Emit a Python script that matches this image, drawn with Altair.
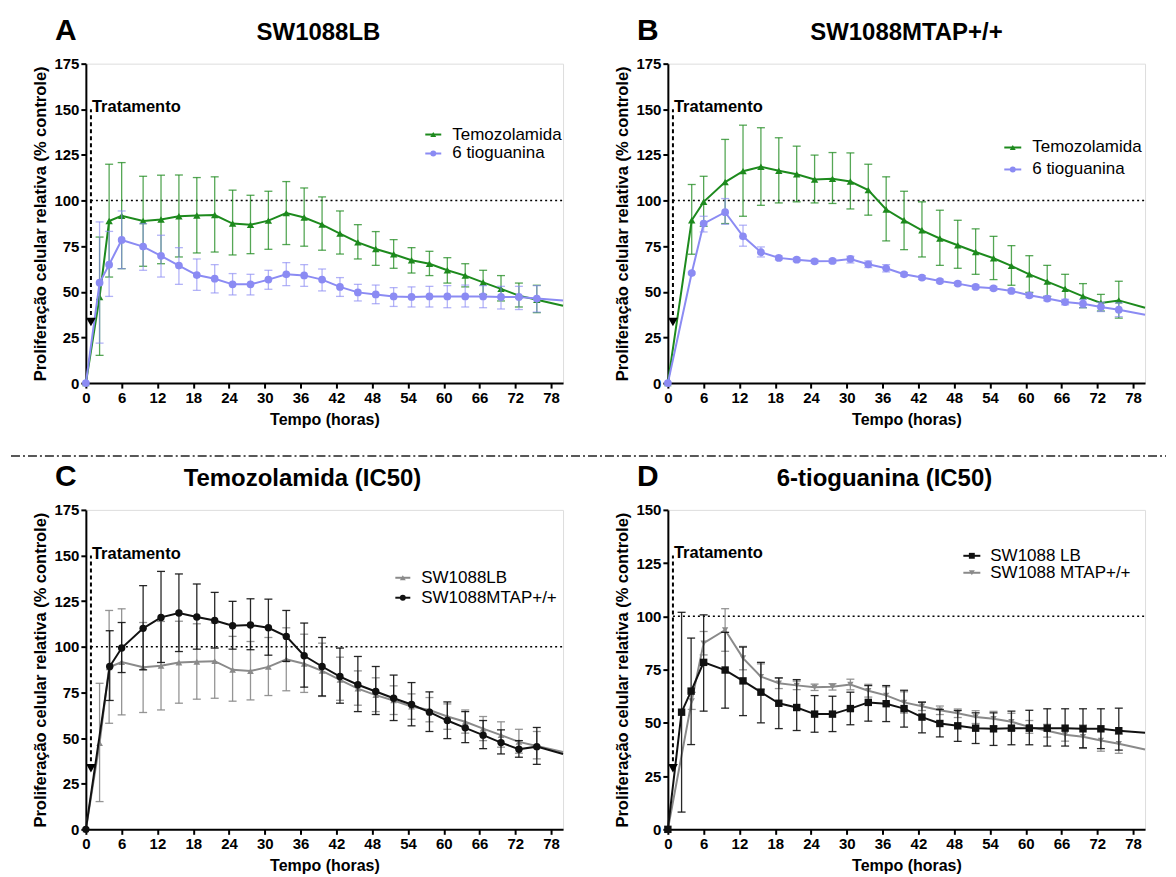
import altair as alt
import pandas as pd

FONT = "Liberation Sans"

# ---------------- data ----------------
T_END = 80
# time points (hours)
T_LB = [0, 2.3, 3.9, 6.0, 9.6, 12.6, 15.6, 18.6, 21.6, 24.6, 27.6, 30.6, 33.6, 36.6,
        39.6, 42.6, 45.6, 48.6, 51.6, 54.6, 57.6, 60.6, 63.6, 66.6, 69.6, 72.6, 75.6]
T_MTAP = [0, 4.0, 6.0, 9.6, 12.6, 15.6, 18.6, 21.6, 24.6, 27.6, 30.6, 33.6, 36.6,
          39.6, 42.6, 45.6, 48.6, 51.6, 54.6, 57.6, 60.6, 63.6, 66.6, 69.6, 72.6, 75.6]

# SW1088LB - Temozolamida
LB_TMZ = [0, 47.2, 88.8, 91.6, 88.8, 89.6, 91.4, 91.8, 92.1, 87.4, 86.7, 89.0, 93.1, 90.7,
          86.8, 81.9, 77.1, 73.5, 70.6, 67.3, 65.4, 61.8, 58.9, 55.2, 51.6, 47.9, 45.7]
LB_TMZ_HI = [0, 80.0, 119.9, 120.8, 113.3, 113.9, 114.0, 112.6, 113.0, 105.7, 102.9, 105.1, 110.4, 106.9,
             102.0, 94.3, 86.8, 83.0, 78.6, 74.2, 72.2, 68.7, 65.4, 61.8, 58.9, 54.8, 53.6]
LB_TMZ_LO = [0, 15.2, 58.1, 62.7, 64.0, 65.4, 69.1, 71.3, 71.8, 70.2, 70.9, 73.3, 75.9, 75.0,
             72.8, 70.7, 68.0, 64.5, 62.9, 60.3, 58.9, 54.8, 52.7, 48.6, 45.0, 41.7, 38.6]
LB_TMZ_END = 42.4

# SW1088LB - 6 tioguanina
LB_6TG = [0, 55.0, 64.9, 78.4, 74.8, 69.7, 64.4, 59.2, 57.2, 54.1, 54.1, 56.7, 59.6, 59.0,
          56.7, 52.7, 49.7, 48.6, 47.5, 47.2, 47.5, 47.5, 47.5, 47.5, 47.2, 47.2, 46.3]
LB_6TG_HI = [0, 88.3, 83.1, 94.3, 87.4, 81.0, 74.2, 68.0, 64.9, 60.0, 59.6, 61.8, 66.0, 64.9,
             62.5, 57.8, 54.1, 53.7, 52.3, 52.7, 53.0, 53.4, 53.7, 53.4, 53.0, 53.0, 53.4]
LB_6TG_LO = [0, 21.9, 47.5, 62.7, 61.8, 58.1, 54.1, 50.8, 49.4, 48.3, 48.3, 51.4, 53.4, 53.0,
             50.5, 47.5, 45.0, 43.5, 42.0, 41.7, 41.7, 41.3, 41.7, 41.3, 40.6, 40.3, 38.9]
LB_6TG_END = 45.3
# panel D error bars (SW1088 LB, 6-tioguanina)
D_LB_HI = [0, 101.9, 89.8, 100.7, 92.5, 85.6, 78.4, 71.1, 70.3, 62.8, 62.5, 64.4, 67.5, 67.5,
           65.3, 59.7, 56.3, 55.8, 54.7, 54.7, 55.5, 55.9, 56.6, 56.6, 56.6, 56.6, 56.9]
D_LB_LO = [0, 8.1, 39.8, 55.5, 56.9, 53.4, 50.0, 47.3, 46.4, 45.6, 45.9, 49.1, 50.8, 50.6,
           48.0, 45.3, 43.4, 41.3, 40.3, 39.4, 39.7, 39.7, 39.1, 39.1, 38.3, 37.9, 37.2]

# SW1088MTAP+/+ - Temozolamida
MT_TMZ = [0, 89.2, 99.3, 110.1, 116.1, 118.5, 116.3, 114.4, 111.5, 111.9, 110.4, 105.7, 95.1,
          89.2, 83.7, 79.2, 75.5, 71.8, 68.4, 64.2, 59.6, 55.6, 51.6, 47.5, 43.9, 45.3]
MT_TMZ_HI = [0, 108.8, 113.3, 133.5, 141.3, 139.9, 134.4, 129.8, 124.9, 126.3, 126.1, 119.9, 113.0,
             105.1, 99.3, 94.7, 89.2, 84.5, 80.4, 75.3, 69.8, 64.5, 59.6, 54.5, 48.6, 55.8]
MT_TMZ_LO = [0, 70.6, 85.9, 87.4, 91.4, 97.4, 98.7, 99.3, 98.7, 98.4, 95.4, 92.0, 77.9,
             73.1, 69.1, 64.5, 62.9, 59.6, 56.7, 53.6, 49.7, 47.5, 44.2, 41.3, 39.5, 35.6]
MT_TMZ_END = 41.3

# SW1088MTAP+/+ - 6 tioguanina
MT_6TG = [0, 60.3, 87.4, 93.6, 80.4, 71.7, 68.6, 67.6, 66.7, 66.9, 68.0, 65.1, 62.9,
          59.6, 57.8, 55.9, 54.5, 52.7, 51.9, 50.5, 48.1, 46.3, 44.4, 43.5, 41.7, 40.2]
MT_6TG_HI = [0, 60.8, 91.4, 101.1, 86.5, 74.6, 69.6, 68.6, 67.7, 67.9, 69.5, 66.9, 64.9,
             60.6, 58.8, 56.9, 55.5, 53.7, 52.9, 51.5, 49.3, 47.5, 45.9, 45.8, 44.2, 44.0]
MT_6TG_LO = [0, 59.8, 82.8, 87.0, 75.0, 69.1, 67.6, 66.6, 65.7, 65.9, 65.8, 63.3, 60.9,
             58.6, 56.8, 54.9, 53.5, 51.7, 50.9, 49.5, 46.9, 45.1, 42.9, 41.3, 39.2, 36.4]
MT_6TG_END = 37.5
# panel D error bars (SW1088 MTAP+/+, 6-tioguanina)
D_MT_HI = [0, 64.3, 92.9, 103.6, 85.9, 77.7, 71.1, 69.6, 68.2, 68.4, 70.5, 68.1, 66.9,
           64.6, 59.8, 57.9, 56.5, 55.7, 55.4, 54.5, 51.1, 49.3, 47.4, 49.0, 46.7, 44.7]
D_MT_LO = [0, 56.3, 81.9, 83.6, 74.9, 65.7, 66.1, 65.6, 65.2, 65.4, 65.5, 62.1, 58.9,
           54.6, 55.8, 53.9, 52.5, 49.7, 48.4, 46.5, 45.1, 43.3, 41.4, 38.0, 36.7, 35.7]

# ---------------- styling ----------------
GREEN = "#1d8a1d"
PURPLE = "#8b8bf3"
GREY = "#8a8a8a"
BLACK = "#111111"

W, H = 478, 320
X_TICKS = list(range(0, 79, 6))
Y_TITLE = "Proliferação celular relativa (% controle)"


def axes(ymax):
    xs = alt.Scale(domain=[0, T_END], nice=False, zero=False)
    ys = alt.Scale(domain=[0, ymax], nice=False)
    common = dict(labelFont=FONT, titleFont=FONT, labelFontWeight="bold", titleFontWeight="bold",
                  labelColor="black", titleColor="black", domainColor="black", domainWidth=2,
                  tickColor="black", tickWidth=2, tickSize=5, grid=False, labelPadding=2)
    xa = alt.Axis(values=X_TICKS, title="Tempo (horas)", labelFontSize=15, titleFontSize=16,
                  titlePadding=6, labelFlush=False, **common)
    ya = alt.Axis(values=list(range(0, ymax + 1, 25)), title=Y_TITLE, labelFontSize=15,
                  titleFontSize=16.5, titlePadding=5, **common)
    return xs, ys, xa, ya


def series_layers(s, xs, ys, xa, ya):
    df = pd.DataFrame({"t": s["t"], "v": s["v"], "lo": s["lo"], "hi": s["hi"]})
    dfe = df[df["t"] > 0]
    dfl = pd.DataFrame({"t": s["t"] + [T_END], "v": s["v"] + [s["end"]]})
    X = alt.X("t:Q", scale=xs, axis=xa)
    err = alt.Chart(dfe).mark_rule(color=s["ecolor"], strokeWidth=1.3, opacity=s["eop"]).encode(
        x=X, y=alt.Y("lo:Q", scale=ys, axis=ya), y2="hi:Q")
    caps = alt.Chart(dfe).transform_fold(["lo", "hi"], as_=["k", "val"]).mark_tick(
        orient="horizontal", size=8, thickness=1.3, color=s["ecolor"], opacity=s["eop"]).encode(
        x=X, y=alt.Y("val:Q", scale=ys, axis=ya))
    line = alt.Chart(dfl).mark_line(color=s["color"], strokeWidth=2).encode(
        x=X, y=alt.Y("v:Q", scale=ys, axis=ya))
    pts = alt.Chart(df).mark_point(shape=s["shape"], filled=True, size=s["size"], color=s["color"],
                                   opacity=1).encode(x=X, y=alt.Y("v:Q", scale=ys, axis=ya))
    return [err, caps, line, pts]


def panel(series, ymax, title, letter, legend, ann_top, ann_arrow, title_dx=0,
          extra=None):
    xs, ys, xa, ya = axes(ymax)
    layers = []
    # reference line at 100 %
    ref = alt.Chart(pd.DataFrame({"x": [0.85], "x2": [T_END], "y": [100]})).mark_rule(
        color="black", strokeWidth=1.5, strokeDash=[2, 3]).encode(
        x=alt.X("x:Q", scale=xs, axis=xa), x2="x2:Q", y=alt.Y("y:Q", scale=ys, axis=ya))
    layers.append(ref)
    for s in series:
        layers += series_layers(s, xs, ys, xa, ya)
    # treatment annotation
    ann = pd.DataFrame({"x": [0.85], "y": [ann_arrow], "y2": [ann_top], "label": ["Tratamento"]})
    layers.append(alt.Chart(ann).mark_rule(color="black", strokeWidth=2, strokeDash=[4, 3]).encode(
        x=alt.X("x:Q", scale=xs, axis=xa), y=alt.Y("y:Q", scale=ys, axis=ya), y2="y2:Q"))
    layers.append(alt.Chart(ann).mark_point(shape="triangle-down", filled=True, size=95,
                                            color="black", opacity=1).encode(
        x=alt.X("x:Q", scale=xs, axis=xa), y=alt.Y("y:Q", scale=ys, axis=ya)))
    layers.append(alt.Chart(ann).mark_text(align="left", baseline="alphabetic", font=FONT,
                                           fontWeight="bold", fontSize=16.5, dx=1, dy=3,
                                           color="black").encode(
        x=alt.X("x:Q", scale=xs, axis=xa), y=alt.Y("y2:Q", scale=ys, axis=ya), text="label:N"))
    # title and panel letter
    tdf = pd.DataFrame({"title": [title], "letter": [letter]})
    layers.append(alt.Chart(tdf).mark_text(align="center", baseline="alphabetic", font=FONT,
                                           fontWeight="bold", fontSize=24, color="black").encode(
        x=alt.value(W / 2 + title_dx), y=alt.value(-24), text="title:N"))
    layers.append(alt.Chart(tdf).mark_text(align="left", baseline="alphabetic", font=FONT,
                                           fontWeight="bold", fontSize=30, color="black").encode(
        x=alt.value(-31), y=alt.value(-24), text="letter:N"))
    # legend
    sx0, sx1, tx, rows = legend["sx0"], legend["sx1"], legend["tx"], legend["rows"]
    for s, ry in zip(series if not legend.get("order") else [series[i] for i in legend["order"]], rows):
        ldf = pd.DataFrame({"label": [s["name"]]})
        layers.append(alt.Chart(ldf).mark_rule(color=s["color"], strokeWidth=2).encode(
            x=alt.value(sx0), x2=alt.value(sx1), y=alt.value(ry)))
        layers.append(alt.Chart(ldf).mark_point(shape=s["shape"], filled=True, size=35,
                                                color=s["color"], opacity=1).encode(
            x=alt.value((sx0 + sx1) / 2), y=alt.value(ry)))
        layers.append(alt.Chart(ldf).mark_text(align="left", baseline="middle", font=FONT,
                                               fontSize=17, color="black").encode(
            x=alt.value(tx), y=alt.value(ry), text="label:N"))
    if extra:
        layers += extra
    return alt.layer(*layers).properties(width=W, height=H)


def S(name, t, v, lo, hi, end, color, shape, size, ecolor, eop):
    return dict(name=name, t=t, v=v, lo=lo, hi=hi, end=end, color=color, shape=shape,
                size=size, ecolor=ecolor, eop=eop)


# invisible anchor fixing the top-left corner of the figure
anchor = alt.Chart(pd.DataFrame({"a": [0]})).mark_rule(strokeOpacity=0, strokeWidth=0.1).encode(
    x=alt.value(-77), x2=alt.value(-70), y=alt.value(-54))
# dash-dot separator between the rows
sep = alt.Chart(pd.DataFrame({"a": [0]})).mark_rule(color="#222222", strokeWidth=1.6,
                                                   strokeDash=[9, 3, 2, 3]).encode(
    x=alt.value(-75), x2=alt.value(1082), y=alt.value(-54))

pA = panel([S("Temozolamida", T_LB, LB_TMZ, LB_TMZ_LO, LB_TMZ_HI, LB_TMZ_END, GREEN, "triangle-up", 55, GREEN, 0.75),
            S("6 tioguanina", T_LB, LB_6TG, LB_6TG_LO, LB_6TG_HI, LB_6TG_END, PURPLE, "circle", 60, PURPLE, 0.65)],
           175, "SW1088LB", "A", dict(sx0=340, sx1=356, tx=367, rows=[71, 90]), 150, 33.5,
           title_dx=-6, extra=[anchor])
pB = panel([S("Temozolamida", T_MTAP, MT_TMZ, MT_TMZ_LO, MT_TMZ_HI, MT_TMZ_END, GREEN, "triangle-up", 55, GREEN, 0.75),
            S("6 tioguanina", T_MTAP, MT_6TG, MT_6TG_LO, MT_6TG_HI, MT_6TG_END, PURPLE, "circle", 60, PURPLE, 0.65)],
           175, "SW1088MTAP+/+", "B", dict(sx0=337, sx1=354, tx=365, rows=[84, 106]), 150, 33.5)
pC = panel([S("SW1088LB", T_LB, LB_TMZ, LB_TMZ_LO, LB_TMZ_HI, LB_TMZ_END, GREY, "triangle-up", 45, GREY, 0.9),
            S("SW1088MTAP+/+", T_MTAP, MT_TMZ, MT_TMZ_LO, MT_TMZ_HI, MT_TMZ_END, BLACK, "circle", 55, BLACK, 0.9)],
           175, "Temozolamida (IC50)", "C", dict(sx0=310, sx1=325, tx=336, rows=[68, 88]), 150, 33.5,
           title_dx=-22, extra=[sep])
pD = panel([S("SW1088 MTAP+/+", T_MTAP, MT_6TG, D_MT_LO, D_MT_HI, MT_6TG_END, GREY, "triangle-down", 40, GREY, 0.9),
            S("SW1088 LB", T_LB, LB_6TG, D_LB_LO, D_LB_HI, LB_6TG_END, BLACK, "square", 55, BLACK, 0.9)],
           150, "6-tioguanina (IC50)", "D", dict(sx0=296, sx1=313, tx=323, rows=[46, 63], order=[1, 0]),
           128.6, 28.7, title_dx=-22)

chart = alt.concat(pA, pB, pC, pD, columns=2, spacing={"row": 127, "column": 105},
                   bounds="flush").properties(padding=0).configure_view(stroke=None).configure(
    font=FONT, background="white")

chart.save("out.html", embed_options={"renderer": "svg", "actions": False})
